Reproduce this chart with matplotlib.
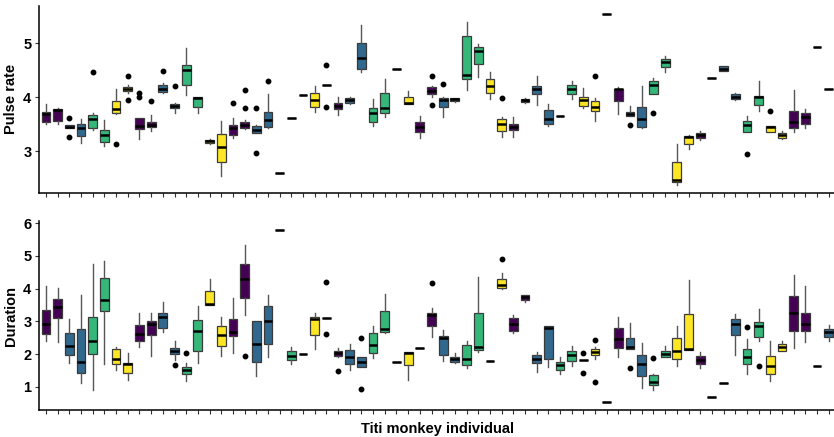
import matplotlib
matplotlib.use("Agg")
import matplotlib.pyplot as plt

plt.rcParams['font.family'] = ['Liberation Sans', 'DejaVu Sans']

individuals = [f"ID{i+1:02d}" for i in range(68)]
group = ['P', 'P', 'B', 'B', 'G', 'G', 'Y', 'Y'] * 8 + ['P', 'P', 'B', 'B']
palette = {'P': '#440154', 'B': '#31688E', 'G': '#35B779', 'Y': '#FDE725'}

# ---- Pulse rate (top panel) ----
pr_q1 = [3.545, 3.56, 3.42, 3.28, 3.42, 3.17, 3.70, 4.12, 3.41, 3.44, 4.09, 3.79, 4.23, 3.81, 3.15, 2.79, 3.30, 3.42, 3.34, 3.45,
         2.60, 3.62, 4.04, 3.82, 4.23, 3.78, 3.90, 4.52, 3.53, 3.71, 4.52, 3.87, 3.35, 4.06, 3.82, 3.93, 4.34, 4.62, 4.08, 3.38,
         3.39, 3.91, 4.06, 3.50, 3.65, 4.05, 3.84, 3.75, 5.54, 3.92, 3.65, 3.44, 4.06, 4.55, 2.42, 3.14, 3.25, 4.36, 4.49, 3.96,
         3.35, 3.85, 3.36, 3.25, 3.43, 3.51, 4.93, 4.16]
pr_med = [3.68, 3.77, 3.45, 3.42, 3.59, 3.30, 3.78, 4.15, 3.46, 3.48, 4.16, 3.84, 4.50, 3.98, 3.18, 3.07, 3.42, 3.48, 3.39, 3.58,
          2.60, 3.62, 4.04, 3.95, 4.23, 3.84, 3.95, 4.72, 3.71, 3.80, 4.52, 3.90, 3.45, 4.12, 3.95, 3.96, 4.41, 4.86, 4.21, 3.51,
          3.45, 3.95, 4.15, 3.59, 3.65, 4.15, 3.95, 3.81, 5.54, 4.15, 3.69, 3.59, 4.23, 4.65, 2.47, 3.27, 3.30, 4.36, 4.52, 4.01,
          3.48, 4.01, 3.45, 3.30, 3.54, 3.63, 4.93, 4.16]
pr_q3 = [3.73, 3.78, 3.48, 3.50, 3.67, 3.39, 3.92, 4.18, 3.62, 3.54, 4.23, 3.87, 4.60, 4.00, 3.20, 3.32, 3.48, 3.54, 3.46, 3.73,
         2.60, 3.62, 4.04, 4.07, 4.23, 3.90, 3.98, 5.00, 3.79, 4.07, 4.52, 4.00, 3.54, 4.18, 3.99, 3.98, 5.14, 4.93, 4.33, 3.59,
         3.50, 3.96, 4.21, 3.77, 3.65, 4.22, 4.00, 3.92, 5.54, 4.16, 3.73, 3.81, 4.29, 4.70, 2.80, 3.28, 3.34, 4.36, 4.57, 4.06,
         3.56, 4.03, 3.46, 3.34, 3.75, 3.70, 4.93, 4.16]
pr_lo = [3.50, 3.50, 3.42, 3.15, 3.39, 3.10, 3.68, 4.07, 3.22, 3.38, 4.07, 3.70, 4.04, 3.71, 3.14, 2.54, 3.24, 3.40, 3.33, 3.42,
         2.60, 3.62, 4.04, 3.72, 4.23, 3.66, 3.87, 4.47, 3.47, 3.63, 4.52, 3.87, 3.25, 4.01, 3.64, 3.91, 4.13, 4.37, 3.97, 3.27,
         3.27, 3.90, 3.85, 3.46, 3.65, 3.97, 3.79, 3.56, 5.54, 3.69, 3.65, 3.42, 4.06, 4.46, 2.38, 3.04, 3.20, 4.36, 4.48, 3.95,
         3.35, 3.75, 3.36, 3.22, 3.36, 3.42, 4.93, 4.16]
pr_hi = [3.87, 3.79, 3.48, 3.59, 3.70, 3.58, 4.15, 4.23, 3.62, 3.67, 4.27, 3.89, 4.91, 4.01, 3.22, 3.56, 3.61, 3.58, 3.48, 4.05,
         2.60, 3.62, 4.04, 4.21, 4.23, 4.01, 4.00, 5.33, 3.96, 4.34, 4.52, 4.12, 3.65, 4.21, 4.01, 3.99, 5.40, 4.99, 4.46, 3.64,
         3.64, 3.98, 4.39, 3.87, 3.65, 4.30, 4.17, 3.98, 5.54, 4.18, 3.84, 4.20, 4.36, 4.76, 3.13, 3.30, 3.37, 4.36, 4.58, 4.07,
         3.65, 4.29, 3.46, 3.38, 4.13, 3.78, 4.93, 4.16]
pr_out = {2: [3.62, 3.27], 4: [4.47], 6: [3.14], 7: [4.40, 3.95], 8: [4.07, 4.00], 9: [3.93], 10: [4.49], 11: [4.21],
          16: [3.90], 17: [4.13, 3.79], 18: [3.80, 2.96], 19: [4.29], 24: [4.59, 3.81], 33: [4.40, 3.85], 34: [4.25],
          39: [3.98], 47: [4.39], 50: [3.48], 52: [3.70], 60: [2.94], 62: [3.74]}

# ---- Duration (bottom panel) ----
du_q1 = [2.60, 3.09, 1.96, 1.43, 2.00, 3.31, 1.68, 1.42, 2.40, 2.58, 2.81, 2.01, 1.40, 2.09, 3.50, 2.25, 2.55, 3.72, 1.76, 2.30,
         5.78, 1.81, 1.99, 2.58, 3.09, 1.93, 1.69, 1.61, 2.02, 2.68, 1.77, 1.66, 2.19, 2.85, 1.97, 1.76, 1.66, 2.12, 1.78, 4.03,
         2.70, 3.65, 1.73, 1.84, 1.51, 1.79, 1.81, 1.97, 0.54, 2.19, 2.15, 1.32, 1.05, 1.91, 1.84, 2.12, 1.69, 0.69, 1.12, 2.58,
         1.69, 2.51, 1.40, 2.10, 2.70, 2.70, 1.64, 2.53]
du_med = [2.92, 3.45, 2.25, 1.76, 2.40, 3.65, 1.86, 1.69, 2.61, 2.92, 3.14, 2.10, 1.51, 2.70, 3.52, 2.58, 2.68, 4.31, 2.30, 3.02,
          5.78, 1.93, 1.99, 3.06, 3.09, 2.02, 1.91, 1.76, 2.27, 2.78, 1.77, 2.02, 2.19, 3.19, 2.48, 1.84, 1.84, 2.22, 1.78, 4.11,
          2.91, 3.73, 1.86, 2.80, 1.66, 1.97, 1.81, 2.07, 0.54, 2.45, 2.22, 1.68, 1.15, 2.00, 2.10, 2.15, 1.81, 0.69, 1.12, 2.92,
          1.91, 2.85, 1.64, 2.22, 3.24, 2.92, 1.64, 2.66]
du_q3 = [3.36, 3.68, 2.65, 2.78, 3.12, 4.34, 2.14, 1.71, 2.88, 3.02, 3.27, 2.19, 1.59, 3.04, 3.93, 2.85, 3.07, 4.74, 3.00, 3.47,
         5.78, 2.09, 1.99, 3.14, 3.09, 2.10, 2.12, 1.91, 2.63, 3.31, 1.77, 2.05, 2.19, 3.24, 2.56, 1.91, 2.27, 3.27, 1.78, 4.31,
         3.11, 3.80, 1.97, 2.85, 1.76, 2.10, 1.81, 2.14, 0.54, 2.80, 2.50, 1.97, 1.37, 2.09, 2.50, 3.21, 1.94, 0.69, 1.12, 3.07,
         2.15, 2.99, 1.94, 2.30, 3.78, 3.26, 1.64, 2.78]
du_lo = [2.39, 2.37, 1.73, 1.12, 0.91, 1.68, 1.51, 1.20, 2.22, 1.93, 2.66, 1.83, 1.18, 1.73, 3.50, 1.94, 2.02, 3.19, 1.32, 1.91,
         5.78, 1.68, 1.99, 2.14, 3.09, 1.91, 1.51, 1.61, 1.89, 2.63, 1.77, 1.22, 2.19, 2.53, 1.78, 1.74, 1.58, 2.07, 1.78, 3.99,
         2.63, 3.58, 1.45, 1.61, 1.38, 1.64, 1.81, 1.86, 0.54, 1.91, 2.14, 0.96, 0.91, 1.91, 1.63, 2.12, 1.56, 0.69, 1.12, 1.97,
         1.40, 2.40, 1.18, 2.09, 2.19, 2.37, 1.64, 2.40]
du_hi = [4.08, 4.01, 3.06, 3.80, 4.74, 4.85, 2.22, 2.02, 3.24, 3.24, 3.58, 2.40, 1.74, 3.47, 4.29, 3.12, 3.72, 5.34, 3.00, 3.80,
         5.78, 2.22, 1.99, 3.24, 3.09, 2.17, 2.32, 1.91, 2.86, 3.85, 1.77, 2.05, 2.19, 3.42, 2.73, 2.02, 2.40, 4.35, 1.78, 4.47,
         3.19, 3.80, 2.07, 2.85, 1.91, 2.25, 1.81, 2.22, 0.54, 3.14, 2.96, 2.34, 1.40, 2.25, 2.85, 4.28, 2.07, 0.69, 1.12, 3.21,
         2.46, 3.37, 2.39, 2.40, 4.42, 4.08, 1.64, 2.90]
du_out = {11: [1.66], 12: [2.04], 17: [1.94], 24: [4.21, 2.60], 25: [1.49], 27: [2.48, 0.92], 33: [4.16], 39: [4.91],
          46: [2.04, 1.43], 47: [2.42, 1.14], 50: [1.56], 52: [1.88], 60: [2.83], 61: [1.64]}

W, H = 834, 437
fig = plt.figure(figsize=(W / 100, H / 100), dpi=100)
left = 39 / W
width = (835.7 - 39) / W
ax1 = fig.add_axes([left, 1 - 192.7 / H, width, (192.7 - 6) / H])
ax2 = fig.add_axes([left, 1 - 410 / H, width, (410 - 221) / H])


def draw(ax, q1, med, q3, lo, hi, outs):
    stats = []
    for i in range(len(individuals)):
        stats.append(dict(q1=q1[i], med=med[i], q3=q3[i], whislo=lo[i], whishi=hi[i],
                          fliers=outs.get(i, []), label=individuals[i]))
    pos = list(range(1, len(individuals) + 1))
    bp = ax.bxp(stats, positions=pos, widths=0.75, patch_artist=True, showcaps=False,
                boxprops=dict(edgecolor='#3a3a3a', linewidth=0.9),
                medianprops=dict(color='black', linewidth=1.8),
                whiskerprops=dict(color='#555555', linewidth=1.0),
                flierprops=dict(marker='o', markerfacecolor='black', markeredgecolor='black',
                                markersize=3.2, linestyle='none'))
    for patch, g in zip(bp['boxes'], group):
        patch.set_facecolor(palette[g])
    ax.set_xlim(0.4, len(individuals) + 0.6)
    ax.set_xticks(pos)
    ax.set_xticklabels([])
    for s in ['top', 'right']:
        ax.spines[s].set_visible(False)
    for s in ['left', 'bottom']:
        ax.spines[s].set_linewidth(1.1)
        ax.spines[s].set_color('black')
    ax.tick_params(axis='both', length=3, width=0.8, color='#333333', pad=2.5)


draw(ax1, pr_q1, pr_med, pr_q3, pr_lo, pr_hi, pr_out)
ax1.set_ylim(2.228, 5.69)
ax1.set_yticks([3, 4, 5])
ax1.set_yticklabels(['3', '4', '5'], fontweight='bold', fontsize=10.5)
ax1.set_ylabel('Pulse rate', fontsize=10.5, fontweight='bold')
ax1.yaxis.set_label_coords(-0.026, 0.5)

draw(ax2, du_q1, du_med, du_q3, du_lo, du_hi, du_out)
ax2.set_ylim(0.287, 6.07)
ax2.set_yticks([1, 2, 3, 4, 5, 6])
ax2.set_yticklabels(['1', '2', '3', '4', '5', '6'], fontweight='bold', fontsize=10.5)
ax2.set_ylabel('Duration', fontsize=10.5, fontweight='bold')
ax2.yaxis.set_label_coords(-0.026, 0.5)
ax2.set_xlabel('Titi monkey individual', fontsize=10.5, fontweight='bold', labelpad=3)

fig.savefig('out.png', dpi=100)
